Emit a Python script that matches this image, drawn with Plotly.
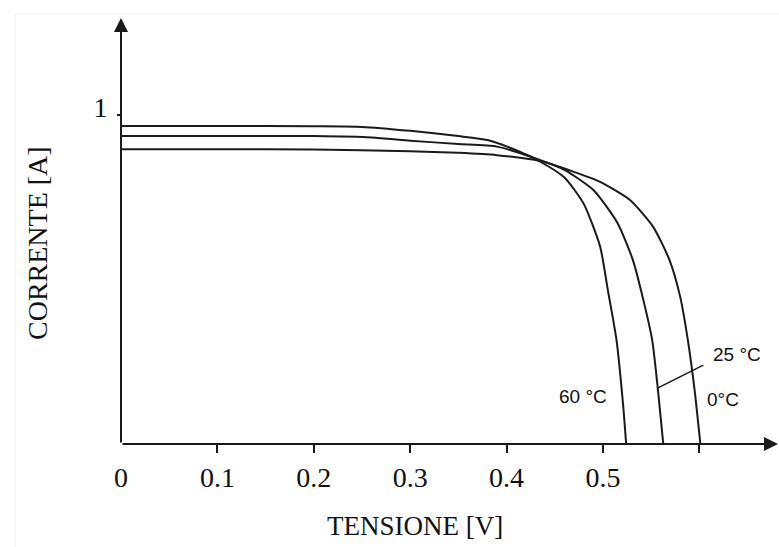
import plotly.graph_objects as go

# Data (V in volts, I in amperes)
V60 = [0, 0.10, 0.20, 0.25, 0.30, 0.35, 0.38, 0.41, 0.435, 0.46, 0.48, 0.497, 0.505, 0.514, 0.521, 0.524]
I60 = [0.967, 0.967, 0.966, 0.964, 0.952, 0.936, 0.924, 0.893, 0.858, 0.81, 0.73, 0.60, 0.468, 0.316, 0.113, 0]

V25 = [0, 0.10, 0.20, 0.26, 0.30, 0.35, 0.39, 0.435, 0.46, 0.49, 0.515, 0.531, 0.541, 0.551, 0.557, 0.5625]
I25 = [0.936, 0.936, 0.936, 0.932, 0.922, 0.912, 0.904, 0.863, 0.833, 0.772, 0.672, 0.559, 0.448, 0.316, 0.164, 0]

V0 = [0, 0.10, 0.20, 0.30, 0.35, 0.39, 0.435, 0.469, 0.497, 0.528, 0.552, 0.569, 0.580, 0.588, 0.595, 0.601]
I0 = [0.896, 0.896, 0.895, 0.890, 0.885, 0.878, 0.860, 0.828, 0.797, 0.742, 0.660, 0.559, 0.448, 0.316, 0.164, 0]

leader_V = [0.556, 0.604]
leader_I = [0.169, 0.240]

x_tickvals = [0.1, 0.2, 0.3, 0.4, 0.5, 0.6]
x_ticktext = ["0.1", "0.2", "0.3", "0.4", "0.5", ""]
y_tickvals = [1]
y_ticktext = ["1"]

labels = [("60 °C", 0.479, 0.143), ("25 °C", 0.639, 0.271), ("0°C", 0.6245, 0.134)]

XMAX = 0.6815
YMAX = 1.295

LINE = "#1a1a1a"
SERIF = "Liberation Serif, Times New Roman, serif"
SANS = "Liberation Sans, Arial, sans-serif"

W, H = 779, 547
ML, MR, MT, MB = 121, 1, 18, 103
pw, ph = W - ML - MR, H - MT - MB

fig = go.Figure()
for V, I in [(V60, I60), (V25, I25), (V0, I0)]:
    fig.add_trace(go.Scatter(x=V, y=I, mode="lines",
                             line=dict(color=LINE, width=2, shape="spline", smoothing=0.6),
                             showlegend=False, hoverinfo="skip", cliponaxis=False))
fig.add_trace(go.Scatter(x=leader_V, y=leader_I, mode="lines",
                         line=dict(color=LINE, width=1.5),
                         showlegend=False, hoverinfo="skip", cliponaxis=False))

annotations = []
# axes with arrowheads
annotations.append(dict(x=XMAX, y=0, ax=0, ay=0, xref="x", yref="y", axref="x", ayref="y",
                        showarrow=True, arrowhead=2, arrowsize=1.4, arrowwidth=2,
                        arrowcolor=LINE, text=""))
annotations.append(dict(x=0, y=YMAX, ax=0, ay=0, xref="x", yref="y", axref="x", ayref="y",
                        showarrow=True, arrowhead=2, arrowsize=1.4, arrowwidth=2,
                        arrowcolor=LINE, text=""))
for t, x, y in labels:
    annotations.append(dict(x=x, y=y, xref="x", yref="y", text=t, showarrow=False,
                            xanchor="center", yanchor="middle",
                            font=dict(family=SANS, size=19, color="#111")))
# origin label
annotations.append(dict(x=0, y=0, xref="x", yref="y", text="0", showarrow=False,
                        xanchor="center", yanchor="middle", yshift=-(477 - 444),
                        font=dict(family=SERIF, size=28, color="#111")))
# axis titles
annotations.append(dict(x=(415 - ML) / pw, y=(H - MB - 526) / ph, xref="paper", yref="paper",
                        text="TENSIONE [V]", showarrow=False,
                        xanchor="center", yanchor="middle",
                        font=dict(family=SERIF, size=27, color="#111")))
annotations.append(dict(x=(38 - ML) / pw, y=(H - MB - 243) / ph, xref="paper", yref="paper",
                        text="CORRENTE [A]", textangle=-90, showarrow=False,
                        xanchor="center", yanchor="middle",
                        font=dict(family=SERIF, size=28, color="#111")))

fig.update_layout(
    width=W, height=H, autosize=False,
    margin=dict(l=ML, r=MR, t=MT, b=MB, pad=0),
    paper_bgcolor="white", plot_bgcolor="white",
    annotations=annotations,
    shapes=[dict(type="rect", xref="paper", yref="paper",
                 x0=(15 - ML) / pw, x1=(790 - ML) / pw,
                 y0=(H - MB - 560) / ph, y1=(H - MB - 14) / ph,
                 line=dict(color="#f0f0f0", width=1), layer="below")],
    xaxis=dict(range=[0, XMAX], showgrid=False, zeroline=False, showline=False,
               tickvals=x_tickvals, ticktext=x_ticktext, ticks="outside", ticklen=8,
               tickwidth=2, tickcolor=LINE, ticklabelstandoff=0,
               tickfont=dict(family=SERIF, size=28, color="#111")),
    yaxis=dict(range=[0, YMAX], showgrid=False, zeroline=False, showline=False,
               tickvals=y_tickvals, ticktext=y_ticktext, ticks="outside", ticklen=3,
               tickwidth=2, tickcolor=LINE, ticklabelstandoff=4, ticklabelshift=-8,
               tickfont=dict(family=SERIF, size=28, color="#111")),
)

fig.write_html("out.html")
